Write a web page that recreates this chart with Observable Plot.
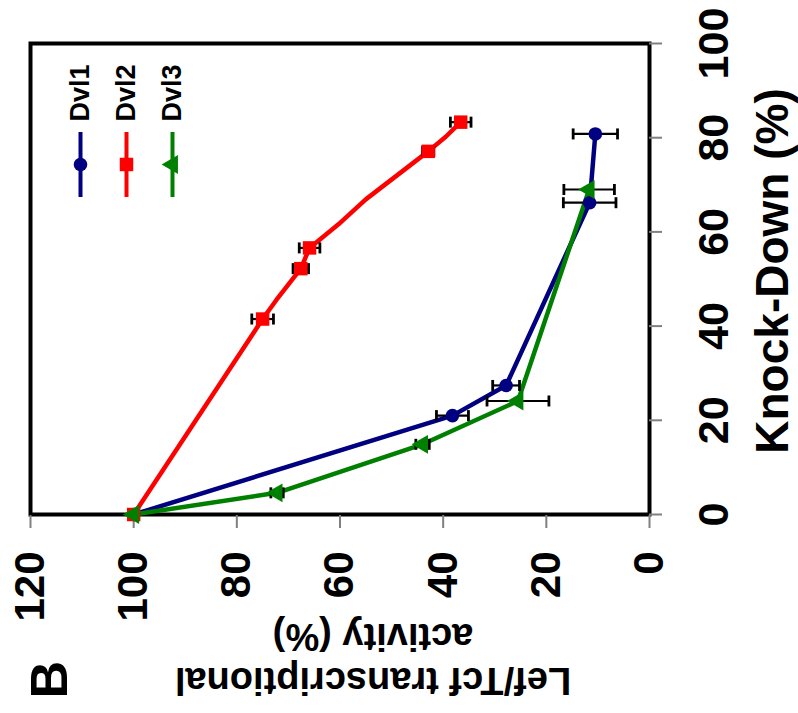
<!DOCTYPE html>
<html>
<head>
<meta charset="utf-8">
<script src="https://cdn.jsdelivr.net/npm/d3@7"></script>
<script src="https://cdn.jsdelivr.net/npm/@observablehq/plot@0.6"></script>
<style>
  html, body { margin: 0; padding: 0; background: #fff; }
  #wrap { position: relative; width: 798px; height: 713px; overflow: hidden; background: #fff; }
  #wrap svg { position: absolute; left: 0; top: 0; transform-origin: 0 0; transform: translate(0px, 713px) rotate(-90deg); }
</style>
</head>
<body>
<div id="wrap"></div>
<script>
// ---- data ----
const seriesNames = ["Dvl1", "Dvl2", "Dvl3"];
const seriesColors = ["#000080", "#ff0000", "#008000"];
const seriesSymbols = ["circle", "square", "triangle"];

const knockdownTicks = [0, 20, 40, 60, 80, 100];
const activityTicks = [0, 20, 40, 60, 80, 100, 120];

// Dvl1
const dvl1KD  = [0, 21.0, 27.4, 66.2, 80.8];
const dvl1Act = [100, 38.2, 27.8, 11.6, 10.5];
const dvl1Err = [0, 3.1, 2.6, 5.1, 4.3];

// Dvl2 (markers)
const dvl2KD  = [0, 41.5, 52.2, 56.6, 77.1, 83.3];
const dvl2Act = [100, 75.0, 67.6, 65.9, 42.9, 36.6];
const dvl2Err = [0, 2.1, 1.5, 2.0, 1.1, 2.0];
// Dvl2 line vertices (line has some unmarked bends)
const dvl2LineKD  = [0, 41.5, 45.6, 52.2, 56.6, 61.6, 66.9, 77.1, 80.2, 83.3];
const dvl2LineAct = [100, 75.0, 72.3, 67.6, 65.9, 60.3, 55.0, 42.9, 39.5, 36.6];

// Dvl3
const dvl3KD  = [0, 4.6, 14.9, 24.1, 69.0];
const dvl3Act = [100, 72.2, 44.0, 25.5, 11.7];
const dvl3Err = [0, 1.2, 1.3, 6.0, 4.9];

const xTitle = "Knock-Down (%)";
const yTitle = "Lef/Tcf transcriptional\nactivity (%)";
const panelLabel = "B";

// ---- tables ----
function rows(name, kd, act, err) {
  return kd.map((k, i) => ({series: name, kd: k, act: act[i], err: err ? err[i] : 0}));
}
const pts = [
  rows("Dvl1", dvl1KD, dvl1Act, dvl1Err),
  rows("Dvl2", dvl2KD, dvl2Act, dvl2Err),
  rows("Dvl3", dvl3KD, dvl3Act, dvl3Err)
];
const lines = [
  rows("Dvl1", dvl1KD, dvl1Act),
  rows("Dvl2", dvl2LineKD, dvl2LineAct),
  rows("Dvl3", dvl3KD, dvl3Act)
];
const allPts = pts.flat();

// a horizontal dash symbol (used for error-bar caps and legend lines)
const hbar = {
  draw(context, size) {
    const r = Math.sqrt(size / Math.PI);
    context.moveTo(-r, 0);
    context.lineTo(r, 0);
  }
};

const font = "'Liberation Sans', Arial, Helvetica, sans-serif";
const symR = {circle: 6.8, square: 7.6, triangle: 7.0};

const marks = [];
marks.push(Plot.frame({stroke: "black", strokeWidth: 4}));
marks.push(Plot.axisX({ticks: knockdownTicks, tickSize: 13, tickPadding: 35, fontSize: 43, fontWeight: "bold", stroke: "#808080", strokeWidth: 2, fill: "black", label: null}));
marks.push(Plot.axisY({ticks: activityTicks, tickSize: 13, tickPadding: 24, fontSize: 42, fontWeight: "bold", stroke: "#808080", strokeWidth: 2, fill: "black", label: null}));

// lines
lines.forEach((L, i) => {
  marks.push(Plot.line(L, {x: "kd", y: "act", stroke: seriesColors[i], strokeWidth: 4.5}));
});
// error bars
marks.push(Plot.ruleX(allPts, {x: "kd", y1: d => d.act - d.err, y2: d => d.act + d.err, stroke: "black", strokeWidth: 2.2}));
marks.push(Plot.dot(allPts, {x: "kd", y: d => d.act - d.err, symbol: hbar, r: 5.5, stroke: "black", strokeWidth: 2.8, fill: "none"}));
marks.push(Plot.dot(allPts, {x: "kd", y: d => d.act + d.err, symbol: hbar, r: 5.5, stroke: "black", strokeWidth: 2.8, fill: "none"}));
// markers
pts.forEach((P, i) => {
  const s = seriesSymbols[i];
  marks.push(Plot.dot(P, {x: "kd", y: "act", symbol: s, r: symR[s], fill: seriesColors[i], stroke: "none"}));
});

// legend (inside frame, top-right in unrotated space)
seriesNames.forEach((name, i) => {
  const dy = 50 + 46 * i;
  const s = seriesSymbols[i];
  marks.push(Plot.dot([name], {frameAnchor: "top-right", dx: -121, dy, symbol: hbar, r: 32.5, stroke: seriesColors[i], strokeWidth: 4, fill: "none"}));
  marks.push(Plot.dot([name], {frameAnchor: "top-right", dx: -121, dy, symbol: s, r: symR[s], fill: seriesColors[i], stroke: "none"}));
  marks.push(Plot.text([name], {frameAnchor: "top-right", dx: -78, dy, text: d => d, textAnchor: "start", lineAnchor: "middle", fontSize: 27, fontWeight: "bold", fill: "black"}));
});

// titles
marks.push(Plot.text([xTitle], {frameAnchor: "bottom", text: d => d, dx: 8, dy: 106, lineAnchor: "top", textAnchor: "middle", fontSize: 46, fontWeight: "bold", fill: "black"}));
marks.push(Plot.text([yTitle], {frameAnchor: "left", text: d => d, rotate: -90, dx: -185, dy: 33, lineAnchor: "top", textAnchor: "middle", fontSize: 38, lineHeight: 1.16, fontWeight: "bold", fill: "black"}));
marks.push(Plot.text([panelLabel], {frameAnchor: "top-left", text: d => d, dx: -184, dy: 0, lineAnchor: "top", textAnchor: "start", fontSize: 52, fontWeight: "bold", fill: "black"}));

const chart = Plot.plot({
  width: 713,
  height: 798,
  marginLeft: 198,
  marginRight: 44,
  marginTop: 30,
  marginBottom: 149,
  style: {fontFamily: font, background: "white", overflow: "visible"},
  x: {domain: [0, 100]},
  y: {domain: [0, 120]},
  marks
});
document.getElementById("wrap").appendChild(chart);
</script>
</body>
</html>
